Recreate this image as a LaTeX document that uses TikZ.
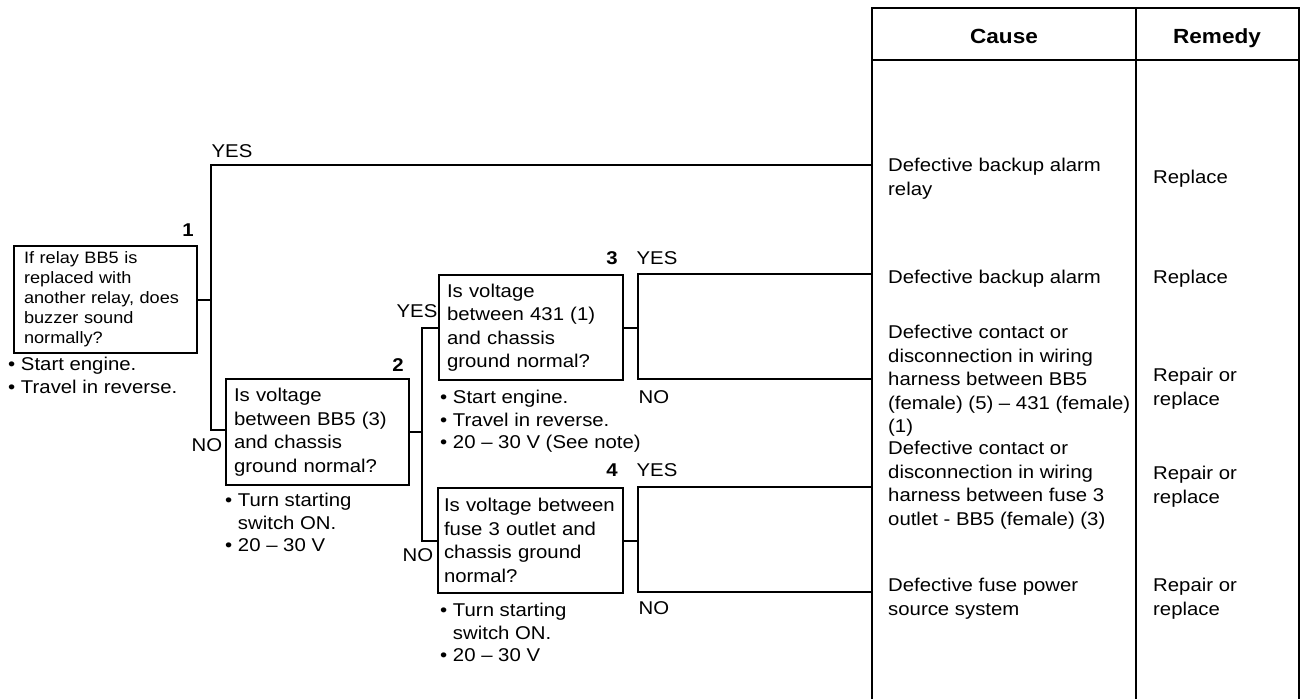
\documentclass[tikz,border=0pt]{standalone}
\usepackage{fontspec}
\setmainfont{Liberation Sans}[FakeStretch=1.1]
\newcommand{\bsp}{\hphantom{•\ }}
\begin{document}
\begin{tikzpicture}[x=1pt,y=-1pt,
  every node/.style={font=\fontsize{18.5}{23.5}\selectfont, inner sep=0pt},
  qbox/.style={draw, line width=2.1pt, rectangle, anchor=north west, inner ysep=0pt, align=left},
  wire/.style={line width=2.1pt},
  tbl/.style={line width=2.3pt},
  txt/.style={anchor=north west, align=left},
  bul/.style={anchor=north west, align=left, font=\fontsize{18.5}{22.5}\selectfont},
  lbl/.style={anchor=center},
  num/.style={anchor=center, font=\fontsize{18.5}{22}\selectfont\bfseries},
  head/.style={anchor=base, font=\fontsize{20.5}{24}\selectfont\bfseries}
]
\useasboundingbox (0,0) rectangle (1303,699);

% table
\draw[tbl] (872,699) -- (872,8) -- (1299,8) -- (1299,699);
\draw[tbl] (872,60) -- (1299,60);
\draw[tbl] (1136,8) -- (1136,699);
\node[head] (hc) at (1004,43) {Cause};
\node[head] (hr) at (1217,43) {Remedy};

\coordinate (t1) at (872,165);
\coordinate (t2) at (872,274);
\coordinate (t3) at (872,379);
\coordinate (t4) at (872,487);
\coordinate (t5) at (872,592);

% boxes
\node[qbox, minimum width=183pt, minimum height=107pt, inner xsep=10pt, text width=163pt,
      font=\fontsize{16.5}{20}\selectfont] (b1) at (13,245)
  {If relay BB5 is\\replaced with\\another relay, does\\buzzer sound\\normally?};
\node[qbox, minimum width=183pt, minimum height=106pt, inner xsep=8pt, text width=167pt] (b2) at (225,378)
  {Is voltage\\between BB5 (3)\\and chassis\\ground normal?};
\node[qbox, minimum width=184pt, minimum height=105pt, inner xsep=8pt, text width=168pt] (b3) at (438,274)
  {Is voltage\\between 431 (1)\\and chassis\\ground normal?};
\node[qbox, minimum width=185pt, minimum height=105pt, inner xsep=6pt, text width=173pt] (b4) at (437,487)
  {Is voltage between\\fuse 3 outlet and\\chassis ground\\normal?};

% connectors
\coordinate (j1y) at (211,165);
\coordinate (j1n) at (211,430);
\draw[wire] (b1.east) -- (b1.east -| j1y);
\draw[wire] (t1) -- (j1y) -- (j1n) -- (j1n -| b2.west);

\draw[wire] (b3.west) -- ++(-16,0) coordinate (j2y) |- (b4.west);
\draw[wire] (b2.east) -- (b2.east -| j2y);

\draw[wire] (b3.east) -- ++(14,0) coordinate (j3);
\draw[wire] (t2) -| (j3) |- (t3);
\draw[wire] (b4.east) -- ++(14,0) coordinate (j4);
\draw[wire] (t4) -| (j4) |- (t5);

% labels
\node[lbl] (ly1) at (232,151) {YES};
\node[num] (n1) at (188,230) {1};
\node[lbl] (ln1) at (207,445) {NO};
\node[num] (n2) at (398,365) {2};
\node[lbl] (ly2) at (417,311) {YES};
\node[lbl] (ln2) at (418,555) {NO};
\node[num] (n3) at (612,258) {3};
\node[lbl] (ly3) at (657,258) {YES};
\node[lbl] (ln3) at (654,397) {NO};
\node[num] (n4) at (612,470) {4};
\node[lbl] (ly4) at (657,470) {YES};
\node[lbl] (ln4) at (654,608) {NO};

% bullets
\node[bul] (s1) at (8,357) {• Start engine.\\• Travel in reverse.};
\node[bul] (s2) at (225,493) {• Turn starting\\\bsp switch ON.\\• 20 -- 30 V};
\node[bul] (s3) at (440,390) {• Start engine.\\• Travel in reverse.\\• 20 -- 30 V (See note)};
\node[bul] (s4) at (440,603) {• Turn starting\\\bsp switch ON.\\• 20 -- 30 V};

% table text
\node[txt] (c1) at (888,158) {Defective backup alarm\\relay};
\node[txt] (r1) at (1153,170) {Replace};
\node[txt] (c2) at (888,270) {Defective backup alarm};
\node[txt] (r2) at (1153,270) {Replace};
\node[txt] (c3) at (888,325) {Defective contact or\\disconnection in wiring\\harness between BB5\\(female) (5) -- 431 (female)\\(1)};
\node[txt] (r3) at (1153,368) {Repair or\\replace};
\node[txt] (c4) at (888,441) {Defective contact or\\disconnection in wiring\\harness between fuse 3\\outlet - BB5 (female) (3)};
\node[txt] (r4) at (1153,466) {Repair or\\replace};
\node[txt] (c5) at (888,578) {Defective fuse power\\source system};
\node[txt] (r5) at (1153,578) {Repair or\\replace};
\end{tikzpicture}
\end{document}
